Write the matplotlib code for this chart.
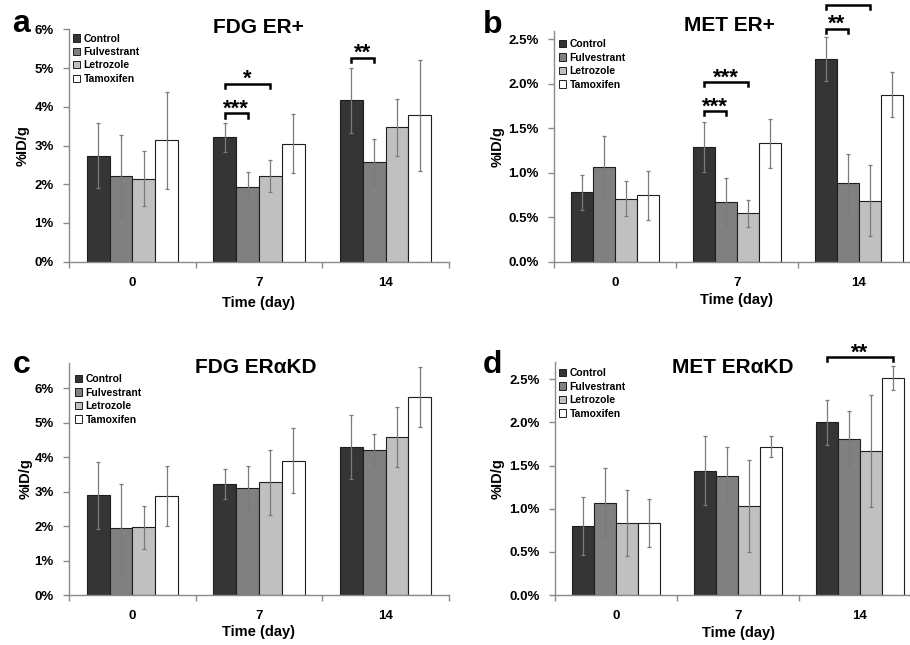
import matplotlib
matplotlib.use("Agg")
import matplotlib.pyplot as plt
import numpy as np
from matplotlib.patches import Patch
from matplotlib.ticker import FixedLocator

plt.rcParams['font.family'] = ['Liberation Sans', 'DejaVu Sans']
plt.rcParams['font.weight'] = 'bold'

# ---------------- data ----------------
days = ['0', '7', '14']
treatments = ['Control', 'Fulvestrant', 'Letrozole', 'Tamoxifen']

# panel a: FDG ER+
a_control = [2.74, 3.21, 4.17]
a_fulvestrant = [2.22, 1.94, 2.58]
a_letrozole = [2.14, 2.21, 3.47]
a_tamoxifen = [3.13, 3.05, 3.78]
a_control_err = [0.84, 0.38, 0.84]
a_fulvestrant_err = [1.06, 0.37, 0.59]
a_letrozole_err = [0.71, 0.41, 0.74]
a_tamoxifen_err = [1.25, 0.77, 1.44]
a_yticks = [0, 1, 2, 3, 4, 5, 6]
a_yticklabels = ['0%', '1%', '2%', '3%', '4%', '5%', '6%']
a_sig = [(1, 0, 1, 3.83, '***'), (1, 0, 2, 4.60, '*'), (2, 0, 1, 5.27, '**')]

# panel b: MET ER+
b_control = [0.78, 1.29, 2.28]
b_fulvestrant = [1.07, 0.675, 0.89]
b_letrozole = [0.71, 0.545, 0.685]
b_tamoxifen = [0.745, 1.33, 1.88]
b_control_err = [0.20, 0.28, 0.25]
b_fulvestrant_err = [0.34, 0.27, 0.32]
b_letrozole_err = [0.20, 0.15, 0.40]
b_tamoxifen_err = [0.28, 0.28, 0.25]
b_yticks = [0, 0.5, 1.0, 1.5, 2.0, 2.5]
b_yticklabels = ['0.0%', '0.5%', '1.0%', '1.5%', '2.0%', '2.5%']
b_sig = [(1, 0, 1, 1.694, '***'), (1, 0, 2, 2.02, '***'), (2, 0, 1, 2.62, '**'), (2, 0, 2, 2.89, '')]

# panel c: FDG ERαKD
c_control = [2.89, 3.23, 4.30]
c_fulvestrant = [1.94, 3.11, 4.21]
c_letrozole = [1.97, 3.27, 4.58]
c_tamoxifen = [2.87, 3.90, 5.75]
c_control_err = [0.96, 0.43, 0.94]
c_fulvestrant_err = [1.28, 0.63, 0.47]
c_letrozole_err = [0.62, 0.95, 0.87]
c_tamoxifen_err = [0.87, 0.95, 0.86]
c_yticks = [0, 1, 2, 3, 4, 5, 6]
c_yticklabels = ['0%', '1%', '2%', '3%', '4%', '5%', '6%']
c_sig = []

# panel d: MET ERαKD
d_control = [0.80, 1.44, 2.00]
d_fulvestrant = [1.07, 1.38, 1.81]
d_letrozole = [0.835, 1.03, 1.665]
d_tamoxifen = [0.835, 1.72, 2.52]
d_control_err = [0.34, 0.40, 0.26]
d_fulvestrant_err = [0.40, 0.34, 0.32]
d_letrozole_err = [0.38, 0.53, 0.65]
d_tamoxifen_err = [0.28, 0.12, 0.14]
d_yticks = [0, 0.5, 1.0, 1.5, 2.0, 2.5]
d_yticklabels = ['0.0%', '0.5%', '1.0%', '1.5%', '2.0%', '2.5%']
d_sig = [(2, 0, 3, 2.76, '**')]

colors = ['#353535', '#808080', '#c0c0c0', '#ffffff']
axis_gray = '#8a8a8a'

W, H = 910, 645
fig = plt.figure(figsize=(W / 100, H / 100), dpi=100)


def px_ax(left, top, bottom, right):
    return [left / W, 1 - bottom / H, (right - left) / W, (bottom - top) / H]


panels = [
    dict(rect=px_ax(69, 29.3, 261.7, 449), ylim=6.0,
         means=[a_control, a_fulvestrant, a_letrozole, a_tamoxifen],
         errs=[a_control_err, a_fulvestrant_err, a_letrozole_err, a_tamoxifen_err],
         yticks=a_yticks, ylabels=a_yticklabels, sig=a_sig,
         title='FDG ER+', title_xy=(258.5, 33), letter='a', letter_xy=(12, 32),
         leg_xy=(73, 33.5), ylab_x=-0.103, xlab_y=-0.148),
    dict(rect=px_ax(554, 30.5, 261.7, 920), ylim=2.6,
         means=[b_control, b_fulvestrant, b_letrozole, b_tamoxifen],
         errs=[b_control_err, b_fulvestrant_err, b_letrozole_err, b_tamoxifen_err],
         yticks=b_yticks, ylabels=b_yticklabels, sig=b_sig,
         title='MET ER+', title_xy=(729.5, 31), letter='b', letter_xy=(483, 33),
         leg_xy=(559, 39.3), ylab_x=-0.134, xlab_y=-0.136),
    dict(rect=px_ax(69, 362.6, 595, 449), ylim=6.75,
         means=[c_control, c_fulvestrant, c_letrozole, c_tamoxifen],
         errs=[c_control_err, c_fulvestrant_err, c_letrozole_err, c_tamoxifen_err],
         yticks=c_yticks, ylabels=c_yticklabels, sig=c_sig,
         title='FDG ERαKD', title_xy=(255.5, 373), letter='c', letter_xy=(13, 373),
         leg_xy=(75, 374.3), ylab_x=-0.097, xlab_y=-0.129),
    dict(rect=px_ax(555, 362.1, 595, 921), ylim=2.7,
         means=[d_control, d_fulvestrant, d_letrozole, d_tamoxifen],
         errs=[d_control_err, d_fulvestrant_err, d_letrozole_err, d_tamoxifen_err],
         yticks=d_yticks, ylabels=d_yticklabels, sig=d_sig,
         title='MET ERαKD', title_xy=(732.5, 373), letter='d', letter_xy=(483, 373),
         leg_xy=(559, 368.3), ylab_x=-0.137, xlab_y=-0.133),
]

bw = 0.18
x = np.arange(len(days))
offsets = (np.arange(4) - 1.5) * bw

for p in panels:
    ax = fig.add_axes(p['rect'])
    for i in range(4):
        ax.bar(x + offsets[i], p['means'][i], width=bw, color=colors[i],
               edgecolor='#1e1e1e', linewidth=0.8, zorder=2)
        ax.errorbar(x + offsets[i], p['means'][i], yerr=p['errs'][i], fmt='none',
                    ecolor='#7a7a7a', elinewidth=0.9, capsize=1.6, capthick=0.9, zorder=3)
    ax.set_xlim(-0.5, 2.5)
    ax.set_ylim(0, p['ylim'])
    ax.set_yticks(p['yticks'])
    ax.set_yticklabels(p['ylabels'])
    ax.set_xticks(x)
    ax.set_xticklabels(days)
    ax.xaxis.set_minor_locator(FixedLocator([-0.5, 0.5, 1.5, 2.5]))
    ax.tick_params(axis='x', which='major', length=0, pad=11, labelsize=9.5)
    ax.tick_params(axis='x', which='minor', length=4, color=axis_gray, width=1, direction='out')
    ax.tick_params(axis='y', which='major', length=4, color=axis_gray, width=1,
                   direction='out', pad=7, labelsize=9.5)
    for s in ['top', 'right']:
        ax.spines[s].set_visible(False)
    for s in ['left', 'bottom']:
        ax.spines[s].set_color(axis_gray)
        ax.spines[s].set_linewidth(1.0)
    ax.set_ylabel('%ID/g', fontsize=10.5, fontweight='bold')
    ax.yaxis.set_label_coords(p['ylab_x'], 0.5)
    ax.set_xlabel('Time (day)', fontsize=10.5, fontweight='bold')
    ax.xaxis.set_label_coords(0.5, p['xlab_y'])

    # significance brackets
    leg = 0.018 * p['ylim']
    for g, i, j, yb, lab in p['sig']:
        x1 = g + offsets[i]
        x2 = g + offsets[j]
        ax.plot([x1, x1, x2, x2], [yb - leg, yb, yb, yb - leg], color='black',
                linewidth=1.8, clip_on=False, zorder=4, solid_joinstyle='miter')
        if lab:
            ax.annotate(lab, xy=((x1 + x2) / 2, yb), xytext=(0, -1.0),
                        textcoords='offset points', ha='center', va='baseline',
                        fontsize=16, fontweight='bold', annotation_clip=False)

    handles = [Patch(facecolor=colors[k], edgecolor='#1e1e1e', linewidth=0.7)
               for k in range(4)]
    lx, ly = p['leg_xy']
    ax.legend(handles, treatments, loc='upper left', bbox_to_anchor=(lx / W, 1 - ly / H),
              bbox_transform=fig.transFigure, frameon=False, borderpad=0,
              borderaxespad=0, handlelength=0.7, handleheight=0.7, handletextpad=0.3,
              labelspacing=0.33, prop={'size': 7.5, 'weight': 'bold'})

    tx, ty = p['title_xy']
    fig.text(tx / W, 1 - ty / H, p['title'], ha='center', va='baseline',
             fontsize=15, fontweight='bold')
    lxl, lyl = p['letter_xy']
    fig.text(lxl / W, 1 - lyl / H, p['letter'], ha='left', va='baseline',
             fontsize=23, fontweight='bold')

fig.savefig('out.png', dpi=100, facecolor='white')
